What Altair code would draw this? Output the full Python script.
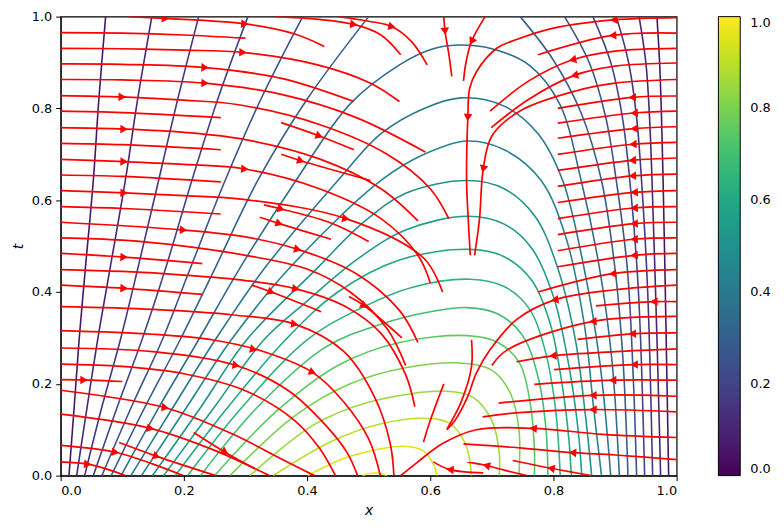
import math
import altair as alt
import pandas as pd

# ---------------- contour levels (values of u) ----------------
LEVELS = [0.05, 0.10, 0.15, 0.20, 0.25, 0.30, 0.35, 0.40, 0.45, 0.50,
          0.55, 0.60, 0.65, 0.70, 0.75, 0.80, 0.85, 0.90, 0.95, 1.00]

# contour curves, points as [x, t]
L1_W = [[.0135, 0], [.022, .15], [.030, .296], [.04, .45], [.053, .643], [.062, .82], [.073, 1]]
L2_W = [[.026, 0], [.043, .15], [.060, .296], [.08, .45], [.105, .643], [.125, .82], [.148, 1]]
L3_W = [[.039, 0], [.067, .15], [.097, .296], [.125, .45], [.159, .643], [.19, .82], [.224, 1]]
L4_W = [[.053, 0], [.092, .15], [.132, .296], [.17, .45], [.213, .643], [.255, .82], [.304, 1]]
L5_W = [[.067, 0], [.115, .15], [.165, .296], [.21, .45], [.267, .643], [.325, .82], [.393, 1]]
L6_W = [[.082, 0], [.137, .15], [.194, .296], [.25, .45], [.32, .643], [.40, .82], [.50, 1]]
L1_E = [[.968, 1], [.973, .88], [.978, .643], [.983, .3], [.987, 0]]
L2_E = [[.939, 1], [.95, .9], [.956, .78], [.96, .643], [.968, .3], [.974, 0]]
L3_E = [[.902, 1], [.922, .9], [.935, .78], [.943, .643], [.953, .4], [.961, 0]]
L4_E = [[.864, 1], [.893, .9], [.912, .78], [.924, .643], [.938, .4], [.948, 0]]
L5_E = [[.818, 1], [.858, .9], [.885, .78], [.902, .643], [.92, .45], [.93, .2], [.935, 0]]
L6_E = [[.746, 1], [.80, .905], [.845, .79], [.878, .643], [.90, .45], [.913, .25], [.921, 0]]
A7 = [[.098, 0], [.16, .15], [.224, .296], [.29, .45], [.382, .643], [.47, .81], [.55, .895], [.60, .928],
      [.645, .938], [.70, .93], [.76, .895], [.81, .81], [.845, .643], [.875, .45], [.895, .25], [.907, 0]]
A8 = [[.114, 0], [.183, .15], [.251, .296], [.33, .45], [.45, .643], [.52, .745], [.59, .80], [.65, .823],
      [.72, .805], [.775, .745], [.815, .643], [.85, .45], [.875, .25], [.893, 0]]
A9 = [[.131, 0], [.205, .15], [.277, .296], [.37, .45], [.52, .643], [.59, .70], [.66, .729],
      [.72, .71], [.78, .643], [.82, .52], [.85, .33], [.865, .15], [.878, 0]]
A10 = [[.149, 0], [.228, .15], [.302, .296], [.415, .45], [.49, .55], [.56, .615], [.66, .643],
       [.72, .625], [.77, .565], [.805, .46], [.835, .30], [.852, .13], [.862, 0]]
A11 = [[.167, 0], [.25, .15], [.33, .296], [.40, .38], [.48, .47], [.56, .535], [.66, .565],
       [.72, .548], [.765, .495], [.80, .39], [.825, .24], [.84, .10], [.846, 0]]
A12 = [[.186, 0], [.272, .15], [.365, .296], [.45, .40], [.55, .47], [.665, .493],
       [.72, .477], [.765, .425], [.795, .33], [.815, .19], [.825, .08], [.829, 0]]
A13 = [[.206, 0], [.295, .15], [.40, .296], [.48, .36], [.57, .41], [.665, .428],
       [.72, .412], [.76, .365], [.785, .28], [.803, .15], [.811, 0]]
A14 = [[.227, 0], [.32, .15], [.43, .28], [.52, .33], [.60, .357], [.66, .366],
       [.71, .352], [.75, .305], [.775, .215], [.788, .10], [.791, 0]]
A15 = [[.25, 0], [.35, .14], [.45, .24], [.55, .29], [.66, .305],
       [.71, .29], [.745, .245], [.762, .16], [.769, .06], [.769, 0]]
A16 = [[.275, 0], [.38, .13], [.47, .20], [.56, .235], [.654, .245],
       [.70, .23], [.73, .18], [.744, .10], [.744, 0]]
A17 = [[.307, 0], [.41, .11], [.50, .16], [.627, .184], [.67, .17], [.70, .12], [.712, .05], [.712, 0]]
A18 = [[.345, 0], [.44, .075], [.52, .113], [.59, .125], [.63, .115], [.657, .07], [.667, 0]]
A19 = [[.401, 0], [.47, .042], [.557, .064], [.59, .053], [.605, .025], [.611, 0]]
A20 = [[.49, 0], [.51, .006], [.53, 0]]

CONTOURS = [(L1_W, 0), (L1_E, 0), (L2_W, 1), (L2_E, 1), (L3_W, 2), (L3_E, 2),
            (L4_W, 3), (L4_E, 3), (L5_W, 4), (L5_E, 4), (L6_W, 5), (L6_E, 5),
            (A7, 6), (A8, 7), (A9, 8), (A10, 9), (A11, 10), (A12, 11), (A13, 12),
            (A14, 13), (A15, 14), (A16, 15), (A17, 16), (A18, 17), (A19, 18), (A20, 19)]

# ---------------- streamlines, points as [x, t] in flow order ----------------
T1 = [[.111, 1.0], [.17, .996], [.30, .984], [.38, .962], [.428, .935]]
T2 = [[.348, 1.0], [.42, .994], [.476, .983], [.52, .96], [.552, .917]]
T3 = [[.45, 1.0], [.50, .99], [.538, .978], [.57, .945], [.595, .895]]
S965 = [[0, .965], [.1, .964], [.2, .96], [.30, .953]]
S931 = [[0, .931], [.1, .930], [.2, .927], [.296, .922], [.417, .895], [.503, .855], [.55, .815]]
S897 = [[0, .897], [.1, .896], [.2345, .889], [.36, .865], [.476, .815]]
S863 = [[0, .863], [.1, .862], [.2345, .855], [.36, .83], [.48, .78], [.592, .705]]
S828 = [[0, .828], [.1, .825], [.2, .818], [.289, .808], [.42, .765], [.53, .70], [.60, .625], [.63, .56]]
S794 = [[0, .794], [.1, .791], [.26, .78]]
S758 = [[0, .758], [.103, .755], [.2, .748], [.3, .732], [.42, .69], [.52, .625], [.58, .555]]
S724 = [[0, .724], [.1, .721], [.26, .71]]
S689 = [[0, .689], [.103, .684], [.2, .678], [.299, .668], [.42, .625], [.52, .56], [.58, .48], [.60, .42]]
S655 = [[0, .655], [.1, .652], [.26, .64]]
S621 = [[0, .621], [.103, .616], [.2, .61], [.289, .603], [.463, .56], [.59, .473], [.62, .40]]
S586 = [[0, .586], [.1, .582], [.26, .57]]
S552 = [[0, .552], [.1995, .535], [.3, .52], [.385, .493], [.48, .44], [.55, .36], [.58, .29]]
S518 = [[0, .518], [.1, .513], [.2, .50], [.3, .48], [.40, .45], [.47, .40], [.53, .32], [.56, .24]]
S484 = [[0, .484], [.103, .476], [.23, .462]]
S449 = [[0, .449], [.1, .445], [.2, .437], [.3, .425], [.382, .407], [.46, .37], [.52, .31], [.56, .22], [.575, .15]]
S415 = [[0, .415], [.103, .408], [.23, .395]]
S368 = [[0, .368], [.15, .362], [.28, .35], [.38, .33], [.46, .27], [.51, .17], [.535, .07], [.541, 0]]
S316 = [[0, .316], [.15, .308], [.25, .295], [.33, .27], [.409, .225], [.46, .16], [.50, .08], [.519, 0]]
S278 = [[0, .278], [.15, .27], [.285, .24], [.37, .185], [.43, .11], [.465, .05], [.482, 0]]
S243 = [[0, .243], [.1, .238], [.2, .222], [.3, .185], [.38, .12], [.42, .06], [.446, 0]]
S209 = [[0, .209], [.05, .208], [.10, .205]]
S186 = [[0, .186], [.17, .148], [.28, .09], [.36, .035], [.412, 0]]
S134 = [[0, .134], [.146, .103], [.25, .055], [.339, 0]]
S066 = [[0, .066], [.089, .051], [.15, .025], [.199, 0]]
S030 = [[0, .030], [.044, .025], [.08, .012], [.105, 0]]
M1 = [[.095, .072], [.156, .042], [.252, 0]]
M2 = [[.216, .094], [.267, .051], [.315, .015]]
MA = [[.358, .769], [.42, .74], [.476, .71]]
MB = [[.358, .70], [.39, .686], [.503, .643]]
MC = [[.33, .59], [.358, .581], [.44, .55], [.50, .51]]
MD = [[.323, .563], [.355, .549], [.439, .515]]
ME = [[.31, .415], [.342, .40], [.423, .357]]
MF = [[.468, .39], [.493, .37], [.554, .30]]
C1 = [[.622, 1.0], [.624, .968], [.63, .92], [.635, .87]]
C2 = [[.689, 1.0], [.667, .946], [.658, .90], [.654, .86]]
R998 = [[1, .998], [.898, .993], [.80, .975], [.74, .95], [.708, .931], [.675, .88], [.664, .844],
        [.661, .78], [.659, .643], [.662, .55], [.665, .48]]
R964 = [[1, .964], [.896, .959], [.775, .917]]
R931 = [[1, .931], [.90, .925], [.831, .906], [.76, .86], [.697, .794]]
R899 = [[1, .899], [.90, .892], [.834, .872], [.76, .82], [.699, .758]]
R863 = [[1, .863], [.90, .855], [.836, .838], [.745, .794], [.70, .74], [.686, .668], [.68, .56], [.672, .48]]
R827 = [[1, .827], [.928, .824], [.807, .80]]
R794 = [[1, .794], [.931, .79], [.807, .768]]
R760 = [[1, .760], [.931, .756], [.807, .735]]
R726 = [[1, .726], [.929, .722], [.807, .70]]
R692 = [[1, .692], [.928, .687], [.807, .665]]
R657 = [[1, .657], [.928, .653], [.807, .63]]
R621 = [[1, .621], [.931, .617], [.807, .595]]
R586 = [[1, .586], [.931, .583], [.807, .56]]
R552 = [[1, .552], [.931, .549], [.807, .525]]
R518 = [[1, .518], [.931, .515], [.807, .49]]
R484 = [[1, .484], [.931, .48], [.807, .455]]
R449 = [[1, .449], [.896, .44], [.775, .40]]
R415 = [[1, .415], [.90, .405], [.802, .383], [.74, .34], [.697, .274], [.675, .224], [.66, .17], [.64, .12], [.627, .10]]
R379 = [[1, .379], [.963, .379], [.869, .37]]
R347 = [[1, .347], [.864, .336], [.725, .274], [.70, .24]]
R311 = [[1, .311], [.928, .309], [.839, .297]]
R276 = [[1, .276], [.90, .27], [.799, .261], [.74, .248]]
R242 = [[1, .242], [.931, .242], [.801, .231]]
R208 = [[1, .208], [.896, .208], [.769, .199]]
R173 = [[1, .173], [.864, .175], [.711, .158]]
R139 = [[1, .139], [.864, .144], [.75, .138], [.685, .128]]
R083 = [[1, .083], [.88, .09], [.767, .103], [.675, .10], [.62, .07], [.58, .03], [.552, 0]]
R035 = [[1, .035], [.90, .045], [.831, .05], [.75, .06], [.654, .069]]
B1 = [[.861, 0], [.796, .016], [.734, .033]]
B2 = [[.757, 0], [.72, .012], [.691, .022], [.66, .03]]
B3 = [[.686, .006], [.632, .013], [.605, .03]]
CL1 = [[.667, .296], [.667, .238], [.65, .16], [.627, .101]]
CL2 = [[.622, .2], [.60, .12], [.589, .073]]

STREAMS = [T1, T2, T3, S965, S931, S897, S863, S828, S794, S758, S724, S689, S655, S621, S586,
           S552, S518, S484, S449, S415, S368, S316, S278, S243, S209, S186, S134, S066, S030,
           M1, M2, MA, MB, MC, MD, ME, MF, C1, C2, R998, R964, R931, R899, R863, R827, R794,
           R760, R726, R692, R657, R621, R586, R552, R518, R484, R449, R415, R379, R347, R311,
           R276, R242, R208, R173, R139, R083, R035, B1, B2, B3, CL1, CL2]

# arrow head positions [x, t]
ARROWS = [[.17, .993], [.299, .984], [.476, .983], [.538, .978], [.624, .968], [.667, .946],
          [.296, .922], [.2345, .889], [.2345, .855], [.1, .825], [.103, .755], [.103, .684],
          [.299, .668], [.42, .74], [.39, .686], [.661, .78], [.686, .668],
          [.898, .993], [.896, .959], [.831, .906], [.834, .872],
          [.928, .824], [.931, .79], [.931, .756], [.929, .722], [.928, .687], [.928, .653],
          [.931, .617], [.931, .583], [.931, .549], [.931, .515], [.931, .48], [.896, .44],
          [.802, .383], [.963, .379], [.864, .336], [.928, .309],
          [.799, .261], [.931, .242], [.896, .208], [.864, .175], [.864, .144], [.767, .103],
          [.831, .05], [.796, .016], [.691, .022], [.632, .013],
          [.103, .616], [.1995, .535], [.103, .476], [.103, .408], [.315, .285],
          [.358, .581], [.463, .56], [.355, .549], [.385, .493], [.382, .407], [.342, .40],
          [.493, .37], [.38, .33], [.038, .207], [.17, .148], [.146, .103], [.089, .051],
          [.044, .025], [.156, .042], [.267, .051], [.409, .225], [.285, .24]]

W, H = 620, 462

# ---------------- tables ----------------
crow = []
for cid, (pts, li) in enumerate(CONTOURS):
    for i, (x, t) in enumerate(pts):
        crow.append({"cid": cid, "i": i, "x": x, "t": t, "level": LEVELS[li]})
cdf = pd.DataFrame(crow)

srow = []
for sid, pts in enumerate(STREAMS):
    for i, (x, t) in enumerate(pts):
        srow.append({"sid": sid, "i": i, "x": x, "t": t})
sdf = pd.DataFrame(srow)


def arrow_heading(ax, at):
    best = None
    for pts in STREAMS:
        for (x1, t1), (x2, t2) in zip(pts[:-1], pts[1:]):
            sx1, sy1, sx2, sy2 = x1 * W, -t1 * H, x2 * W, -t2 * H
            px, py = ax * W, -at * H
            dx, dy = sx2 - sx1, sy2 - sy1
            L2 = dx * dx + dy * dy
            u = 0 if L2 == 0 else max(0, min(1, ((px - sx1) * dx + (py - sy1) * dy) / L2))
            qx, qy = sx1 + u * dx, sy1 + u * dy
            d = (qx - px) ** 2 + (qy - py) ** 2
            if best is None or d < best[0]:
                best = (d, qx / W, -qy / H, math.degrees(math.atan2(dy, dx)) % 360)
    return best[1], best[2], best[3]


arow = []
for ax, at in ARROWS:
    x, t, ang = arrow_heading(ax, at)
    arow.append({"x": x, "t": t, "ang": ang})
adf = pd.DataFrame(arow)

xs = alt.Scale(domain=[0, 1], nice=False, zero=False)
ys = alt.Scale(domain=[0, 1], nice=False, zero=False)
xaxis = alt.Axis(title="x", values=[0, 0.2, 0.4, 0.6, 0.8, 1.0], format=".1f")
yaxis = alt.Axis(title="t", values=[0, 0.2, 0.4, 0.6, 0.8, 1.0], format=".1f")

contours = alt.Chart(cdf).mark_line(interpolate="catmull-rom", strokeWidth=1.6, clip=True).encode(
    x=alt.X("x:Q", scale=xs, axis=xaxis),
    y=alt.Y("t:Q", scale=ys, axis=yaxis),
    detail="cid:N",
    order="i:Q",
    color=alt.Color("level:Q", scale=alt.Scale(scheme="viridis", domain=[0, 1]),
                    legend=alt.Legend(type="gradient", title=None, orient="right", offset=42,
                                      gradientLength=462, gradientThickness=22,
                                      values=[0, 0.2, 0.4, 0.6, 0.8, 1.0], format=".1f",
                                      labelFontSize=13, labelFont="DejaVu Sans", labelColor="black",
                                      gradientStrokeColor="black", gradientStrokeWidth=1,
                                      labelOffset=10, padding=0, direction="vertical")),
)

streams = alt.Chart(sdf).mark_line(interpolate="catmull-rom", strokeWidth=1.7, color="#ff0000",
                                   clip=True).encode(
    x=alt.X("x:Q", scale=xs), y=alt.Y("t:Q", scale=ys), detail="sid:N", order="i:Q")

arrows = alt.Chart(adf).mark_point(shape="triangle-right", filled=True, color="#ff0000",
                                   opacity=1, size=75, clip=True).encode(
    x=alt.X("x:Q", scale=xs), y=alt.Y("t:Q", scale=ys), angle=alt.Angle("ang:Q", scale=None))

chart = alt.layer(contours, streams, arrows).properties(
    width=W, height=H,
    padding={"left": 53, "top": 7, "right": 100, "bottom": 45},
    autosize=alt.AutoSizeParams(type="none"),
).configure_view(stroke="black", strokeWidth=1.2).configure_axis(
    grid=False, domainColor="black", tickColor="black", labelColor="black", titleColor="black",
    labelFont="DejaVu Sans", titleFont="DejaVu Sans", labelFontSize=13, titleFontSize=14,
    titleFontStyle="italic", titleFontWeight="normal", tickSize=5, labelPadding=4,
).configure_axisX(titlePadding=6).configure_axisY(titlePadding=6)

chart.save("out.html", embed_options={"renderer": "svg", "actions": False})
